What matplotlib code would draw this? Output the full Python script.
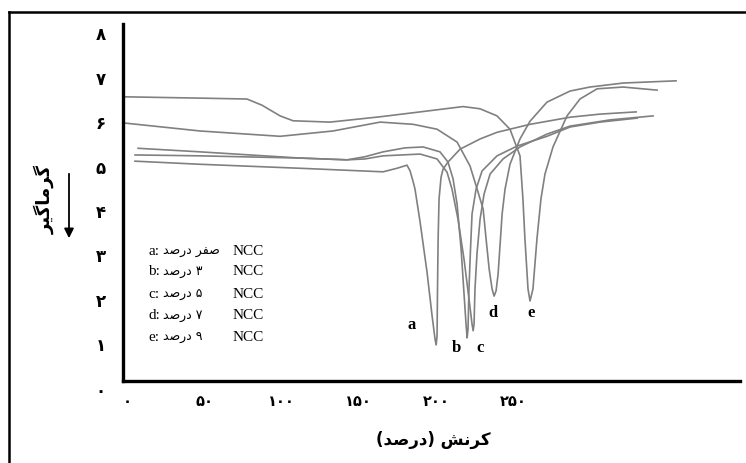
import matplotlib
matplotlib.use("Agg")
import matplotlib.pyplot as plt
from matplotlib.lines import Line2D

# -------------------------
# Persian text helpers (matplotlib does no shaping / bidi)
# -------------------------

FORMS = {
    "ا": ("\uFE8D", "\uFE8E", None, None),
    "د": ("\uFEA9", "\uFEAA", None, None),
    "ر": ("\uFEAD", "\uFEAE", None, None),
    "ص": ("\uFEB9", "\uFEBA", "\uFEBB", "\uFEBC"),
    "ف": ("\uFED1", "\uFED2", "\uFED3", "\uFED4"),
    "م": ("\uFEE1", "\uFEE2", "\uFEE3", "\uFEE4"),
    "ن": ("\uFEE5", "\uFEE6", "\uFEE7", "\uFEE8"),
    "ش": ("\uFEB5", "\uFEB6", "\uFEB7", "\uFEB8"),
    "ک": ("\uFB8E", "\uFB8F", "\uFB90", "\uFB91"),
    "گ": ("\uFB92", "\uFB93", "\uFB94", "\uFB95"),
    "ی": ("\uFBFC", "\uFBFD", "\uFBFE", "\uFBFF"),
}
NON_JOIN_LEFT = set("ادر")


def shape_word(word):
    out = []
    for i, ch in enumerate(word):
        if ch not in FORMS:
            out.append(ch)
            continue
        prev = word[i - 1] if i > 0 else ""
        nxt = word[i + 1] if i + 1 < len(word) else ""
        jp = prev in FORMS and prev not in NON_JOIN_LEFT
        jn = nxt in FORMS and ch not in NON_JOIN_LEFT
        iso, fin, ini, med = FORMS[ch]
        if jp and jn:
            out.append(med)
        elif jp:
            out.append(fin)
        elif jn:
            out.append(ini)
        else:
            out.append(iso)
    vis = "".join(reversed(out))
    return vis.translate(str.maketrans("()", ")("))


def rtl(text):
    return " ".join(shape_word(w) for w in reversed(text.split(" ")))


# -------------------------
# Data
# -------------------------

x_ticks = [0, 50, 100, 150, 200, 250]
x_tick_labels = ["۰", "۵۰", "۱۰۰", "۱۵۰", "۲۰۰", "۲۵۰"]
y_ticks = [0, 1, 2, 3, 4, 5, 6, 7, 8]
y_tick_labels = ["۰", "۱", "۲", "۳", "۴", "۵", "۶", "۷", "۸"]

curve_names = ["a", "b", "c", "d", "e"]
legend_amounts = ["صفر درصد", "۳ درصد", "۵ درصد", "۷ درصد", "۹ درصد"]

a_x = [4.8, 47.0, 111.8, 165.7, 174.7, 181.2, 183.2, 185.1, 186.4, 189.7, 194.2,
       197.5, 199.4, 200.1, 200.7, 201.0, 201.4, 202.0, 203.3, 204.6, 207.8,
       215.6, 228.6, 239.6, 261.0, 287.0, 306.4, 329.8]
a_y = [5.10, 5.03, 4.94, 4.86, 4.94, 5.01, 4.88, 4.65, 4.47, 3.73, 2.60,
       1.61, 1.09, 0.96, 1.16, 2.22, 3.35, 4.25, 4.74, 4.92, 5.08,
       5.37, 5.60, 5.75, 5.93, 6.09, 6.16, 6.21]

b_x = [6.8, 47.0, 79.4, 111.8, 142.3, 154.0, 165.7, 180.0, 191.7, 202.6, 207.8,
       211.1, 213.7, 216.3, 218.2, 219.5, 220.2, 220.8, 221.4, 222.4, 223.4,
       226.0, 229.9, 239.6, 252.6, 272.0, 287.0, 306.4, 330.5]
b_y = [5.39, 5.31, 5.24, 5.17, 5.13, 5.20, 5.31, 5.40, 5.42, 5.31, 5.08,
       4.70, 4.13, 3.12, 2.11, 1.43, 1.12, 1.32, 2.22, 3.12, 3.91,
       4.47, 4.88, 5.22, 5.44, 5.66, 5.87, 5.98, 6.07]

c_x = [4.8, 47.0, 111.8, 142.3, 154.0, 165.7, 189.7, 200.7, 207.2, 210.4, 214.3,
       218.2, 221.4, 223.4, 224.1, 224.7, 225.3, 226.6, 228.6, 231.2, 235.1,
       243.5, 254.5, 272.0, 287.0, 313.0, 340.8]
c_y = [5.24, 5.22, 5.17, 5.13, 5.15, 5.22, 5.26, 5.15, 4.85, 4.47, 3.79,
       2.89, 2.00, 1.43, 1.28, 1.43, 2.22, 3.01, 3.79, 4.36, 4.81,
       5.15, 5.42, 5.71, 5.89, 6.03, 6.12]

d_x = [-2.3, 47.0, 98.9, 133.2, 163.8, 185.2, 200.7, 213.7, 222.1, 226.7, 230.6,
       232.5, 234.5, 236.4, 237.7, 239.0, 240.3, 241.6, 242.9, 244.8, 248.0,
       254.5, 261.0, 272.0, 287.0, 299.9, 321.4, 355.7]
d_y = [5.96, 5.78, 5.66, 5.78, 5.98, 5.93, 5.82, 5.53, 4.99, 4.47, 4.02,
       3.35, 2.67, 2.22, 2.06, 2.18, 2.56, 3.23, 3.91, 4.47, 5.03,
       5.60, 6.00, 6.43, 6.68, 6.77, 6.86, 6.91]

e_x = [-2.3, 47.0, 77.4, 87.2, 98.9, 107.3, 131.3, 163.8, 189.7, 217.6, 228.6,
       239.6, 248.0, 254.5, 256.4, 257.7, 259.7, 261.0, 262.9, 265.5, 268.1,
       270.7, 275.9, 285.0, 293.4, 304.5, 321.4, 343.4]
e_y = [6.55, 6.52, 6.50, 6.36, 6.12, 6.01, 5.98, 6.10, 6.21, 6.33, 6.28,
       6.12, 5.82, 5.22, 4.25, 3.35, 2.22, 1.95, 2.22, 3.35, 4.25,
       4.81, 5.42, 6.12, 6.50, 6.73, 6.77, 6.70]

curves_x = [a_x, b_x, c_x, d_x, e_x]
curves_y = [a_y, b_y, c_y, d_y, e_y]

# label spots next to each minimum
label_x = [184.5, 213.0, 228.6, 237.0, 261.7]
label_y = [1.43, 0.91, 0.91, 1.70, 1.70]

# -------------------------
# Plot
# -------------------------

fig = plt.figure(figsize=(7.46, 4.64), dpi=100)
ax = fig.add_axes([123 / 746, 1 - 393 / 464, 617 / 746, 368 / 464])

for cx, cy in zip(curves_x, curves_y):
    ax.plot(cx, cy, color="#808080", linewidth=1.2, solid_joinstyle="round")

for name, lx, ly in zip(curve_names, label_x, label_y):
    ax.text(lx, ly, name, family="Liberation Serif", fontweight="bold",
            fontsize=12, ha="center", va="center")

ax.set_xlim(-3.0, 397.2)
ax.set_ylim(-0.1, 8.19)

ax.spines["top"].set_visible(False)
ax.spines["right"].set_visible(False)
ax.spines["bottom"].set_position(("data", 0.15))
ax.spines["left"].set_bounds(0.15, 8.19)
ax.spines["bottom"].set_linewidth(2.4)
ax.spines["left"].set_linewidth(2.4)

ax.set_xticks(x_ticks)
ax.set_xticklabels(x_tick_labels, fontweight="bold", fontsize=10.5,
                   family="DejaVu Sans")
ax.set_yticks(y_ticks)
ax.set_yticklabels(y_tick_labels, fontweight="bold", fontsize=12,
                   family="DejaVu Sans", ha="center")
ax.tick_params(axis="x", length=0, pad=9)
ax.tick_params(axis="y", length=0, pad=16)

# legend block
rows_y = [0.384, 0.331, 0.269, 0.210, 0.151]
for name, amount, ry in zip(curve_names, legend_amounts, rows_y):
    ax.text(0.041, ry, name + ":", transform=ax.transAxes,
            family="Liberation Serif", fontsize=11, va="center")
    ax.text(0.065, ry, rtl(amount), transform=ax.transAxes,
            family="DejaVu Sans", fontsize=9, va="center", ha="left")
    ax.text(0.178, ry, "NCC", transform=ax.transAxes,
            family="Liberation Serif", fontsize=11, va="center")

# axis titles
fig.text(433 / 746, 1 - 440 / 464, rtl("کرنش (درصد)"), ha="center",
         va="center", fontsize=12, fontweight="bold", family="DejaVu Sans")
fig.text(44 / 746, 1 - 200 / 464, rtl("گرماگیر"), ha="center", va="center",
         rotation=90, fontsize=13, fontweight="bold", family="DejaVu Sans")
ax.annotate("", xy=(69, 464 - 242), xytext=(69, 464 - 172),
            xycoords="figure pixels", textcoords="figure pixels",
            arrowprops=dict(arrowstyle="-|>", color="black", lw=1.3,
                            mutation_scale=14))

# outer frame (left and top edges only)
fig.add_artist(Line2D([9 / 746, 9 / 746], [0, 1 - 13 / 464],
                      transform=fig.transFigure, color="black", linewidth=1.8))
fig.add_artist(Line2D([9 / 746, 1], [1 - 13 / 464, 1 - 13 / 464],
                      transform=fig.transFigure, color="black", linewidth=1.8))

plt.savefig("out.png", dpi=100)
plt.close()
print("Saved: out.png")
